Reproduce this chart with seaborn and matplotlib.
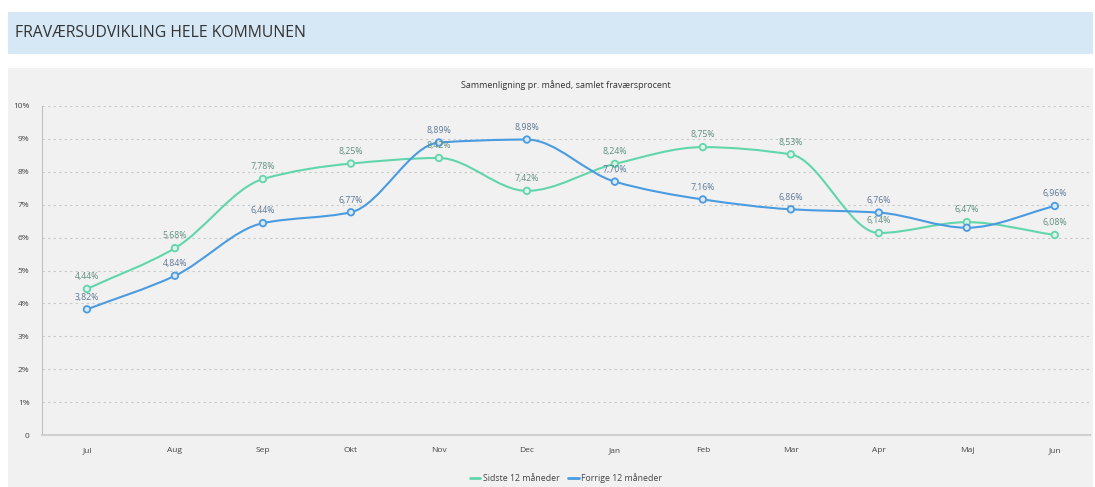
import numpy as np
import pandas as pd
import matplotlib
matplotlib.use("Agg")
import matplotlib.pyplot as plt
import seaborn as sns
from matplotlib.path import Path
from matplotlib.patches import PathPatch, Rectangle

months = ["Jul", "Aug", "Sep", "Okt", "Nov", "Dec", "Jan", "Feb", "Mar", "Apr", "Maj", "Jun"]
sidste = [4.44, 5.68, 7.78, 8.25, 8.42, 7.42, 8.24, 8.75, 8.53, 6.14, 6.47, 6.08]
forrige = [3.82, 4.84, 6.44, 6.77, 8.89, 8.98, 7.70, 7.16, 6.86, 6.76, 6.30, 6.96]
forrige_labels = [True] * 10 + [False, True]

green = "#62d6ab"
blue = "#4a9be0"
green_txt = "#5f8f7e"
blue_txt = "#5d7896"

df = pd.DataFrame({
    "x": list(range(12)) * 2,
    "val": sidste + forrige,
    "serie": ["Sidste 12 måneder"] * 12 + ["Forrige 12 måneder"] * 12,
})


def monotone_path(y):
    # Fritsch-Carlson tangents, drawn as cubic bezier segments
    y = np.asarray(y, float)
    d = np.diff(y)
    m = np.zeros_like(y)
    m[0], m[-1] = d[0], d[-1]
    for i in range(1, len(y) - 1):
        if d[i - 1] * d[i] <= 0:
            m[i] = 0
        else:
            m[i] = 2 / (1 / d[i - 1] + 1 / d[i])
    verts = [(0, y[0])]
    codes = [Path.MOVETO]
    for i in range(len(y) - 1):
        verts += [(i + 1 / 3, y[i] + m[i] / 3), (i + 2 / 3, y[i + 1] - m[i + 1] / 3), (i + 1, y[i + 1])]
        codes += [Path.CURVE4] * 3
    return Path(verts, codes)


sns.set_style("white")
plt.rcParams["font.family"] = ["Open Sans", "DejaVu Sans"]

fig = plt.figure(figsize=(10.95, 4.87), dpi=100)
W, H = 1095, 487

# header band and grey panel
fig.patches.append(Rectangle((8 / W, 1 - 54 / H), 1085 / W, 42 / H, transform=fig.transFigure,
                             facecolor="#d6e8f6", edgecolor="none", zorder=-10))
fig.patches.append(Rectangle((8 / W, 0), 1085 / W, 1 - 68 / H, transform=fig.transFigure,
                             facecolor="#f1f1f1", edgecolor="none", zorder=-10))
fig.text(15 / W, 1 - 33 / H, "FRAVÆRSUDVIKLING HELE KOMMUNEN", fontsize=11.3, color="#333333",
         va="center", ha="left")
fig.text(0.5 * (42 + 1090) / W, 1 - 85 / H, "Sammenligning pr. måned, samlet fraværsprocent",
         fontsize=6.5, color="#333333", ha="center", va="center")

ax = fig.add_axes([42 / W, 1 - 435 / H, 1048 / W, 329 / H])
ax.set_facecolor("none")
ax.set_zorder(2)

for y, c in [(sidste, green), (forrige, blue)]:
    ax.add_patch(PathPatch(monotone_path(y), facecolor="none", edgecolor=c, lw=1.5, zorder=3))

sns.scatterplot(data=df, x="x", y="val", hue="serie", palette=[green, blue], ax=ax,
                s=22, linewidth=1.3, zorder=4, legend=False)
# hollow-looking markers with coloured rims
coll = ax.collections[-1]
coll.set_edgecolors([green] * 12 + [blue] * 12)
coll.set_facecolors(["#dff3ea"] * 12 + ["#dbe9f6"] * 12)

for i, v in enumerate(sidste):
    ax.annotate(f"{v:.2f}%".replace(".", ","), (i, v), xytext=(0, 5.5), textcoords="offset points",
                ha="center", va="bottom", fontsize=6.3, color=green_txt, zorder=5)
for i, v in enumerate(forrige):
    if forrige_labels[i]:
        ax.annotate(f"{v:.2f}%".replace(".", ","), (i, v), xytext=(0, 5.5), textcoords="offset points",
                    ha="center", va="bottom", fontsize=6.3, color=blue_txt, zorder=5)

ax.set_xlim(-0.511, 11.40)
ax.set_ylim(0, 10)
ax.set_xticks(range(12))
ax.set_xticklabels(months)
ax.set_yticks(range(11))
ax.set_yticklabels(["0"] + [f"{i}%" for i in range(1, 11)])
ax.set_xlabel("")
ax.set_ylabel("")
ax.tick_params(axis="both", labelsize=6, colors="#444444", length=3, width=0.6, color="#c8c8c8", pad=6)
for yv in range(1, 11):
    ax.axhline(yv, color="#c8c8c8", lw=0.8, ls=(0, (2, 3)), zorder=1)
for s in ["top", "right"]:
    ax.spines[s].set_visible(False)
ax.spines["left"].set_color("#c0c0c0")
ax.spines["bottom"].set_color("#d0d0d0")
ax.spines["bottom"].set_linewidth(1.5)

handles = [plt.Line2D([], [], color=green, lw=2), plt.Line2D([], [], color=blue, lw=2)]
fig.legend(handles, ["Sidste 12 måneder", "Forrige 12 måneder"], loc="center",
           bbox_to_anchor=(0.5 * (42 + 1090) / W, 1 - 478 / H), ncol=2, frameon=False,
           fontsize=6.3, handlelength=1.2, handletextpad=0.3, columnspacing=1.0,
           labelcolor="#444444")

fig.savefig("out.png", dpi=100)
